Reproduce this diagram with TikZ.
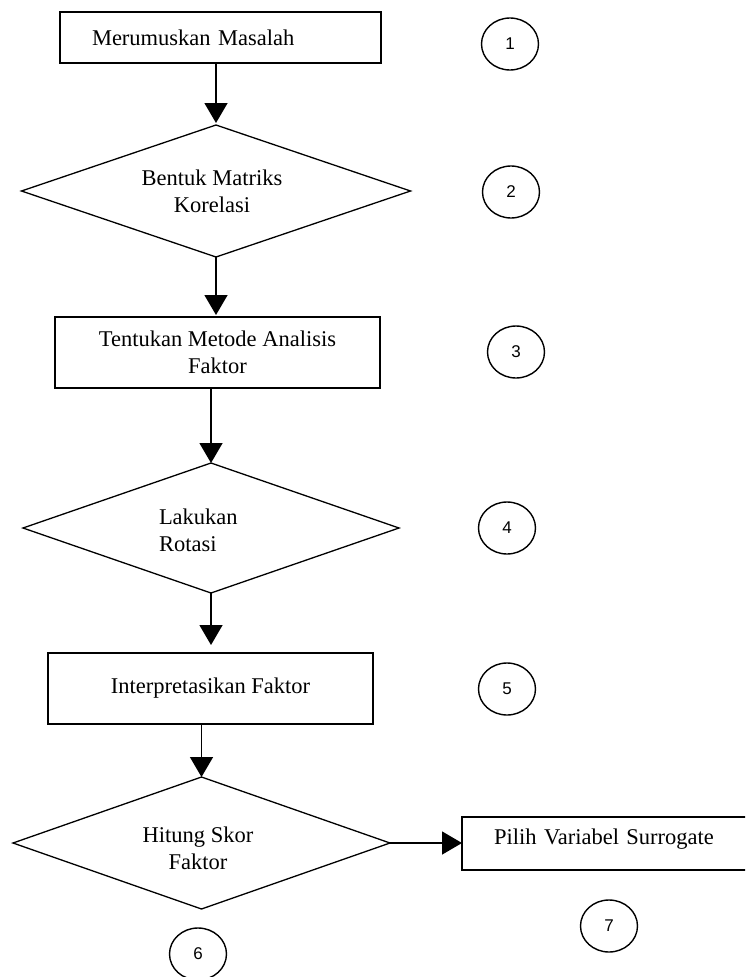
\documentclass[tikz,border=0pt]{standalone}
\usepackage{fontspec}
\setmainfont{Liberation Serif}
\newfontfamily\numfont{Liberation Sans}
\usetikzlibrary{shapes.geometric,arrows.meta}

\begin{document}
\begin{tikzpicture}[x=1pt,y=-1pt,
  every node/.style={outer sep=0pt},
  stepbox/.style={draw, line width=1.6pt, inner sep=0pt,
    font=\fontsize{22.5}{27}\selectfont},
  choice/.style={draw, diamond, line width=1.3pt, inner sep=0pt},
  txt/.style={inner sep=0pt, font=\fontsize{22.5}{27}\selectfont},
  num/.style={draw, ellipse, line width=1.4pt, minimum width=57pt,
    minimum height=52pt, inner sep=0pt,
    font=\numfont\fontsize{17}{20}\selectfont},
  flow/.style={line width=1.5pt, -{Triangle[width=23pt,length=20pt]}}
]
% page frame
\clip (0,0) rectangle (745,977);
\fill[white] (0,0) rectangle (745,977);

% main flow
\node[stepbox, minimum width=321pt, minimum height=51pt,
  text width=257pt, align=left] (b1) at (220.5,37.5) {Merumuskan Masalah};

\node[choice, minimum width=389pt, minimum height=132pt] (d2) at (216,191) {};
\node[txt, align=center] (t2) at (212,191) {Bentuk Matriks\\Korelasi};

\node[stepbox, minimum width=325pt, minimum height=71pt, align=center]
  (b3) at (217.5,352.5) {Tentukan Metode Analisis\\Faktor};

\node[choice, minimum width=376pt, minimum height=130pt] (d4) at (211,528) {};
\node[txt, align=left, anchor=west] (t4) at (159,530) {Lakukan\\Rotasi};

\node[stepbox, minimum width=325pt, minimum height=71pt]
  (b5) at (210.5,688.5) {Interpretasikan Faktor};

\node[choice, minimum width=377pt, minimum height=132pt] (d6) at (201.5,843) {};
\node[txt, align=center] (t6) at (198,848) {Hitung Skor\\Faktor};

\node[stepbox, minimum width=300pt, minimum height=53pt, text width=236pt,
  align=left, text height=6pt, text depth=5pt]
  (b7) at (612,843.5) {Pilih Variabel Surrogate};

% step numbers
\node[num] (c1) at (510,44) {1};
\node[num] (c2) at (511,192) {2};
\node[num] (c3) at (516,352) {3};
\node[num] (c4) at (507,528) {4};
\node[num] (c5) at (507,689) {5};
\node[num] (c6) at (198,954) {6};
\node[num] (c7) at (609,926) {7};

% connectors
\draw[flow, shorten >=2pt] (d2.north |- b1.south) -- (d2.north);
\draw[flow, shorten >=2pt] (d2.south) -- (d2.south |- b3.north);
\draw[flow] (d4.north |- b3.south) -- (d4.north);
\draw[flow, shorten >=8pt] (d4.south) -- (d4.south |- b5.north);
\draw[flow] (d6.north |- b5.south) -- (d6.north);
\draw[flow] (d6.east) -- (d6.east -| b7.west);
\end{tikzpicture}
\end{document}
